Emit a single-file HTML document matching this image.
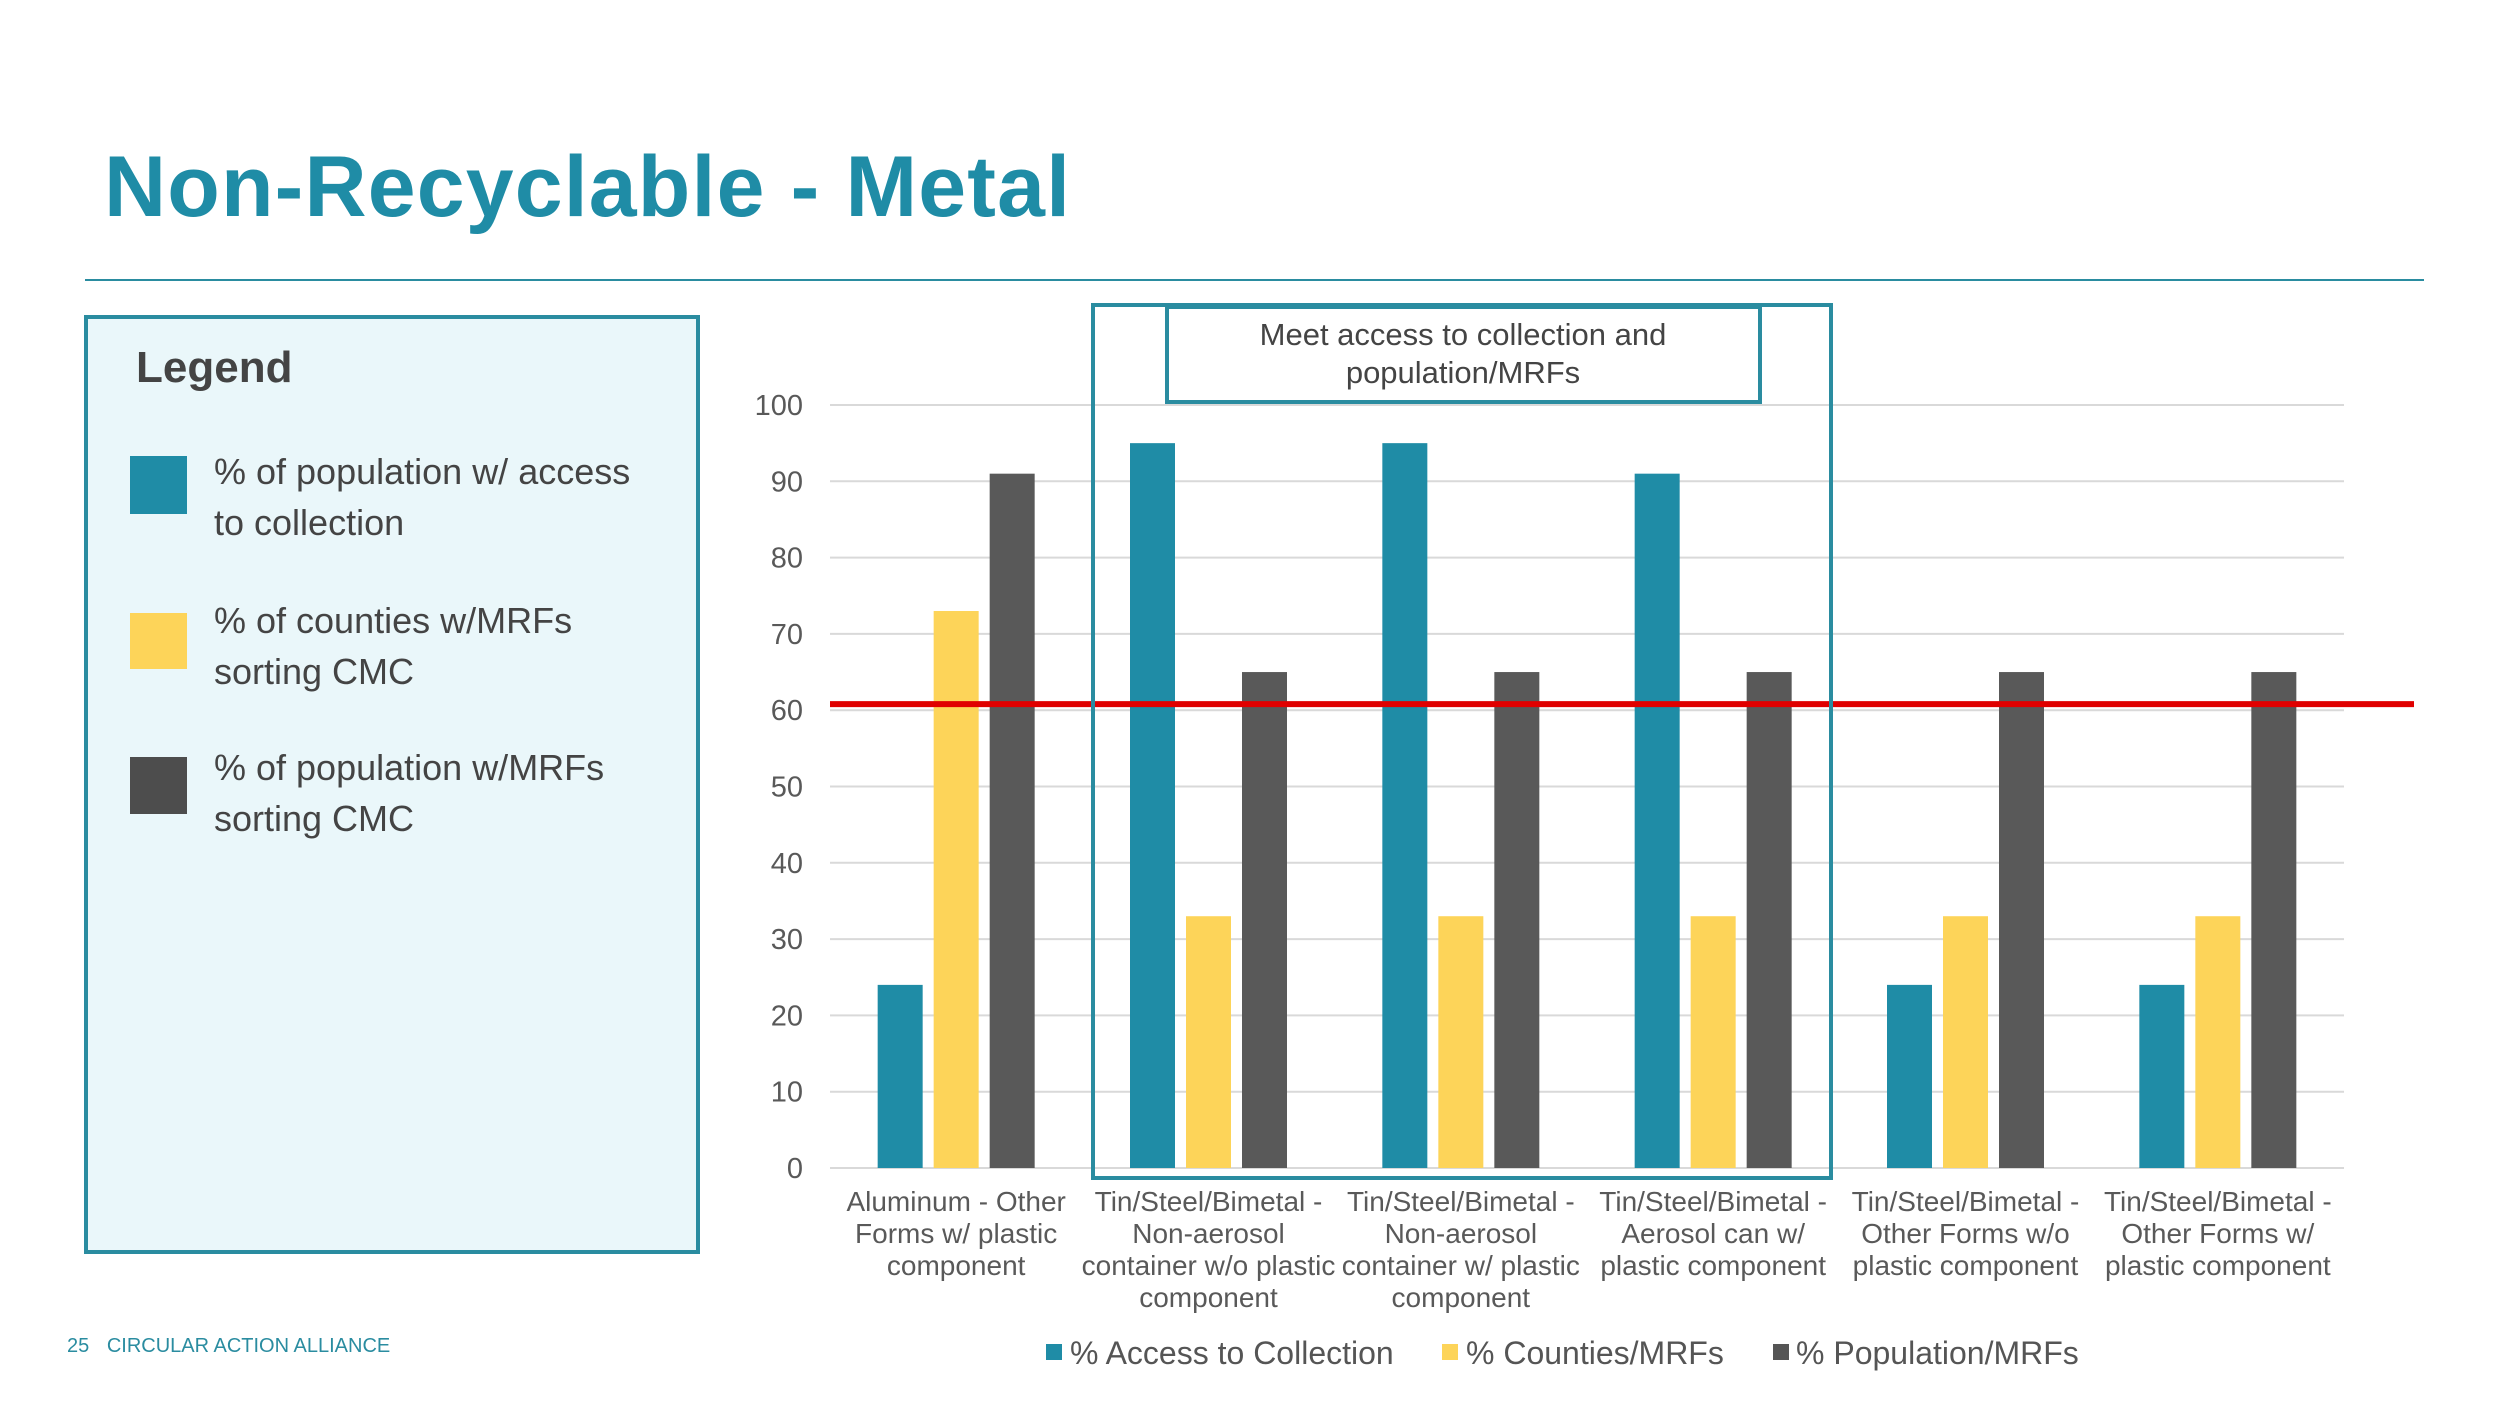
<!DOCTYPE html>
<html><head><meta charset="utf-8"><style>
html,body{margin:0;padding:0;background:#fff;}
svg{display:block;font-family:"Liberation Sans",sans-serif;}
</style></head><body>
<svg id="chart" width="2500" height="1407" viewBox="0 0 2500 1407" xmlns="http://www.w3.org/2000/svg">
<text x="104" y="216" font-size="86" font-weight="bold" fill="#1f8ca6" textLength="966" lengthAdjust="spacing">Non-Recyclable - Metal</text>
<line x1="85" y1="280" x2="2424" y2="280" stroke="#2a8ca0" stroke-width="2"/>
<rect x="86" y="317" width="612" height="935" fill="#eaf7fa" stroke="#2a8ca0" stroke-width="4"/>
<text x="136" y="382" font-size="44" font-weight="bold" fill="#444">Legend</text>
<g>
<rect x="130" y="456" width="57" height="58" fill="#1f8ca6"/>
<text x="214" y="484" font-size="36" fill="#444">% of population w/ access</text>
<text x="214" y="535" font-size="36" fill="#444">to collection</text>
</g>
<g>
<rect x="130" y="613" width="57" height="56" fill="#fdd459"/>
<text x="214" y="633" font-size="36" fill="#444">% of counties w/MRFs</text>
<text x="214" y="684" font-size="36" fill="#444">sorting CMC</text>
</g>
<g>
<rect x="130" y="757" width="57" height="57" fill="#4d4d4d"/>
<text x="214" y="780" font-size="36" fill="#444">% of population w/MRFs</text>
<text x="214" y="831" font-size="36" fill="#444">sorting CMC</text>
</g>
<g id="grid"></g>
<g id="yticks"></g>
<g id="bars"></g>
<g id="xlabels"></g>
<line id="threshold" stroke="#e00000" stroke-width="6"/>
<rect x="1093" y="305" width="738" height="873" fill="none" stroke="#2a8ca0" stroke-width="4"/>
<rect x="1167" y="307" width="593" height="95" fill="#fff" stroke="#2a8ca0" stroke-width="4"/>
<text x="1463" y="345" font-size="31" fill="#444" text-anchor="middle">Meet access to collection and</text>
<text x="1463" y="383" font-size="31" fill="#444" text-anchor="middle">population/MRFs</text>
<g>
<rect x="1046" y="1344" width="16" height="16" fill="#1f8ca6"/>
<text x="1070" y="1364" font-size="32" fill="#555">% Access to Collection</text>
<rect x="1442" y="1344" width="16" height="16" fill="#fdd459"/>
<text x="1466" y="1364" font-size="32" fill="#555">% Counties/MRFs</text>
<rect x="1773" y="1344" width="16" height="16" fill="#555"/>
<text x="1796" y="1364" font-size="32" fill="#555">% Population/MRFs</text>
</g>
<text x="67" y="1352" font-size="20" fill="#2a8ca0">25 <tspan dx="12">CIRCULAR ACTION ALLIANCE</tspan></text>
</svg>
<script>
const categories=[["Aluminum - Other","Forms w/ plastic","component"],["Tin/Steel/Bimetal -","Non-aerosol","container w/o plastic","component"],["Tin/Steel/Bimetal -","Non-aerosol","container w/ plastic","component"],["Tin/Steel/Bimetal -","Aerosol can w/","plastic component"],["Tin/Steel/Bimetal -","Other Forms w/o","plastic component"],["Tin/Steel/Bimetal -","Other Forms w/","plastic component"]];
const accessValues=[24,95,95,91,24,24];
const countiesValues=[73,33,33,33,33,33];
const populationValues=[91,65,65,65,65,65];
const yTicks=[0,10,20,30,40,50,60,70,80,90,100];
const thresholdValue=60.8;
const NS="http://www.w3.org/2000/svg";
const x0=830,x1=2344,yBase=1168,yTop=405;
const y=v=>yBase-(v/100)*(yBase-yTop);
const band=(x1-x0)/categories.length;
const cx=i=>x0+band*(i+0.5);
function mk(tag,attrs,parent){const e=document.createElementNS(NS,tag);for(const k in attrs)e.setAttribute(k,attrs[k]);parent.appendChild(e);return e;}
const grid=document.getElementById('grid'),yt=document.getElementById('yticks'),bars=document.getElementById('bars'),xl=document.getElementById('xlabels');
yTicks.forEach(t=>{
 const l=mk('line',{x1:x0,x2:x1,y1:y(t),y2:y(t),stroke:'#d9d9d9','stroke-width':2},grid);
 
 
 const tx=mk('text',{x:803,y:y(t)+10,'font-size':29,fill:'#595959','text-anchor':'end'},yt);
 tx.textContent=t;
 
 
});
const series=[[accessValues,'#1f8ca6',-56,'bar-access'],[countiesValues,'#fdd459',0,'bar-counties'],[populationValues,'#595959',56,'bar-population']];
categories.forEach((c,i)=>{
 series.forEach(s=>{
  const v=s[0][i];
  const r=mk('rect',{x:cx(i)+s[2]-22.5,y:y(v),width:45,height:yBase-y(v),fill:s[1]},bars);
  
  
 });
 const t=mk('text',{x:cx(i),'font-size':28,fill:'#595959','text-anchor':'middle'},xl);
 
 
 c.forEach((line,j)=>{const ts=mk('tspan',{x:cx(i),y:1211+j*32},t);ts.textContent=line;});
});
const th=document.getElementById('threshold');
th.setAttribute('x1',x0);th.setAttribute('x2',2414);th.setAttribute('y1',y(thresholdValue));th.setAttribute('y2',y(thresholdValue));
</script>
</body></html>
